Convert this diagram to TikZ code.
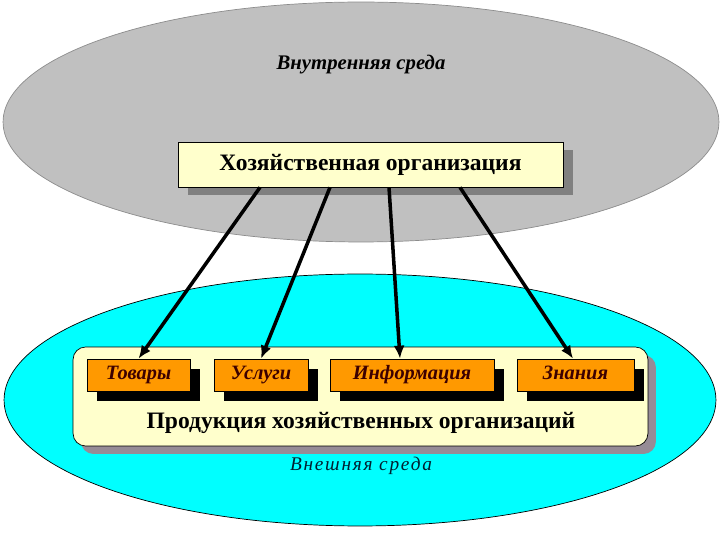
\documentclass[tikz,border=0pt]{standalone}
\usepackage{fontspec}
\setmainfont{Liberation Serif}
\usetikzlibrary{arrows.meta,shadows}
\definecolor{innergray}{RGB}{192,192,192}
\definecolor{outercyan}{RGB}{0,255,255}
\definecolor{paleyellow}{RGB}{255,255,204}
\definecolor{orangefill}{RGB}{255,153,0}
\definecolor{topshadow}{RGB}{128,128,128}
\definecolor{prodshadow}{RGB}{150,140,150}
\definecolor{labelred}{RGB}{60,0,0}
\definecolor{outertext}{RGB}{0,32,48}
\tikzset{
  orgbox/.style={draw,fill=paleyellow,minimum width=7.7cm,minimum height=0.9cm,
    font=\bfseries\fontsize{13.4}{15}\selectfont,
    drop shadow={shadow xshift=0.2cm,shadow yshift=-0.16cm,fill=topshadow,opacity=1}},
  prodbox/.style={draw,fill=orangefill,minimum height=0.64cm,inner sep=0pt,
    text height=8pt,text depth=2.5pt,
    font=\bfseries\itshape\fontsize{11.6}{13}\selectfont,text=labelred,
    drop shadow={shadow xshift=0.2cm,shadow yshift=-0.2cm,fill=black,opacity=1}},
  groupbox/.style={draw,fill=paleyellow,rounded corners=0.25cm,
    minimum width=11.5cm,minimum height=1.98cm,
    drop shadow={shadow xshift=0.16cm,shadow yshift=-0.16cm,fill=prodshadow,opacity=1}},
  flowArrow/.style={-{Latex[length=2.6mm,width=2.2mm]},line width=2pt}
}
\begin{document}
\begin{tikzpicture}[x=0.02cm,y=-0.02cm]
  \useasboundingbox (0,0) rectangle (720,540);
  % the two environments
  \filldraw[fill=innergray,draw=black!45] (361,122) ellipse [x radius=7.16cm,y radius=2.4cm];
  \filldraw[fill=outercyan,draw=black,thin] (360,400) ellipse [x radius=7.12cm,y radius=2.52cm];
  \node[font=\bfseries\itshape\fontsize{11.8}{13}\selectfont] (inner) at (361,65) {Внутренняя среда};
  \node[font=\itshape\fontsize{11}{13}\selectfont\addfontfeature{LetterSpace=9},text=outertext] (outer) at (361,466) {Внешняя среда};

  \node[orgbox] (org) at (370.5,164.5) {Хозяйственная организация};

  \node[groupbox] (prod) at (360.5,396.5) {};
  \node[font=\bfseries\fontsize{13.4}{15}\selectfont] (prodlbl) at (361,423) {Продукция хозяйственных организаций};
  \node[prodbox,minimum width=2.06cm] (goods) at (138.5,375) {Товары};
  \node[prodbox,minimum width=1.88cm] (serv) at (261,375) {Услуги};
  \node[prodbox,minimum width=3.28cm] (info) at (412,375) {Информация};
  \node[prodbox,minimum width=2.34cm] (know) at (575.5,375) {Знания};

  \draw[flowArrow] ([xshift=-2.21cm]org.south) -- (goods.north);
  \draw[flowArrow] ([xshift=-0.81cm]org.south) -- (serv.north);
  \draw[flowArrow] ([xshift=0.37cm]org.south) -- ([xshift=-0.24cm]info.north);
  \draw[flowArrow] ([xshift=1.79cm]org.south) -- ([xshift=-0.05cm]know.north);
\end{tikzpicture}
\end{document}
